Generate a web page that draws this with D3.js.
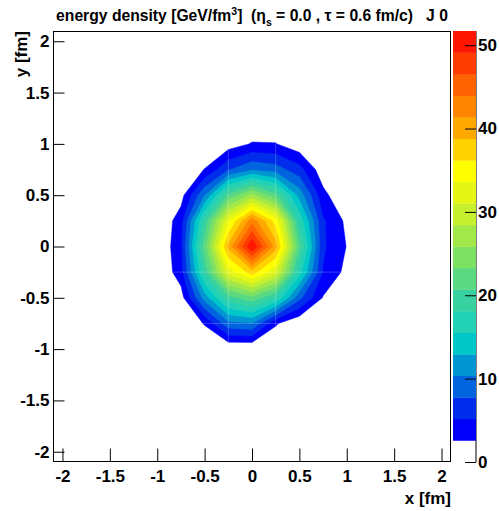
<!DOCTYPE html>
<html><head><meta charset="utf-8">
<script src="https://cdn.jsdelivr.net/npm/d3@7"></script>
<style>
body{margin:0;background:#fff}
svg{display:block}
text{font-family:"Liberation Sans",Arial,Helvetica,sans-serif;font-weight:bold;fill:#000}
</style>
</head><body>
<svg id="c" width="499" height="511"></svg>
<script>
// grid node coordinates (fm)
const gridX = [-1.25,-1,-0.75,-0.5,-0.25,0,0.25,0.5,0.75,1,1.25];
const gridY = [1.25,1,0.75,0.5,0.25,0,-0.25,-0.5,-0.75,-1,-1.25];
// energy density values at grid nodes, rows top (y=1.25) to bottom (y=-1.25)
const row_p125 = [0,0,0,0,0,0,0,0,0,0,0];
const row_p100 = [0,0,0,0,1.2,2.8,2.7,0.8,0,0,0];
const row_p075 = [0,0,0,2.7,7.5,10,9,6.2,0.9,0,0];
const row_p050 = [0,0,1.5,10.2,21.1,26.7,21.4,11.9,3.4,0,0];
const row_p025 = [0,0,4.0,18.9,33,43,35,17.5,5.5,2.0,0];
const row_000  = [0,0,4.6,22,39.5,51.7,40,21,5.6,2.5,0];
const row_m025 = [0,0,4.0,18.8,32,37.5,31.5,16.7,5.0,1.8,0];
const row_m050 = [0,0,1.4,11.5,19.7,22.5,18.0,8.5,2.4,0,0];
const row_m075 = [0,0,0,2.8,9.5,10.2,2.9,0.3,0,0,0];
const row_m100 = [0,0,0,0,0,0,0,0,0,0,0];
const row_m125 = [0,0,0,0,0,0,0,0,0,0,0];
const energyRows = [row_p125,row_p100,row_p075,row_p050,row_p025,row_000,row_m025,row_m050,row_m075,row_m100,row_m125];

const zMin = 0, zMax = 51.7, nContours = 20;
// colours of the filled bands, from lowest level to highest
const levelColors = [
  "rgb(0,0,250)","rgb(0,45,235)","rgb(0,100,222)","rgb(0,150,210)","rgb(0,200,200)",
  "rgb(35,210,182)","rgb(55,210,160)","rgb(90,217,130)","rgb(125,225,100)","rgb(162,232,72)",
  "rgb(198,240,45)","rgb(230,246,20)","rgb(255,255,0)","rgb(255,210,0)","rgb(255,168,0)",
  "rgb(255,132,0)","rgb(255,98,0)","rgb(255,60,0)","rgb(255,22,0)"
];
const xTicks = [-2,-1.5,-1,-0.5,0,0.5,1,1.5,2];
const yTicks = [-2,-1.5,-1,-0.5,0,0.5,1,1.5,2];
const zTicks = [0,10,20,30,40,50];

const svg = d3.select("#c");
const fx0 = 53, fx1 = 451, fy0 = 31, fy1 = 462;
const x = d3.scaleLinear().domain([-2.1,2.1]).range([fx0,fx1]);
const y = d3.scaleLinear().domain([-2.1,2.1]).range([fy1,fy0]);
const z = d3.scaleLinear().domain([zMin,zMax]).range([fy1,fy0]);

// contours
const nx = gridX.length, ny = gridY.length;
const values = energyRows.flat();
const levels = d3.range(1,nContours).map(k => zMin + k*(zMax-zMin)/nContours);
const stepX = gridX[1]-gridX[0], stepY = gridY[1]-gridY[0];
const proj = d3.geoTransform({point(px,py){
  this.stream.point(x(gridX[0] + (px-0.5)*stepX), y(gridY[0] + (py-0.5)*stepY));
}});
const path = d3.geoPath(proj);
const contours = d3.contours().size([nx,ny]).thresholds(levels)(values);

svg.append("clipPath").attr("id","fr").append("rect")
  .attr("x",fx0).attr("y",fy0).attr("width",fx1-fx0).attr("height",fy1-fy0);
const g = svg.append("g").attr("clip-path","url(#fr)");
g.selectAll("path.band").data(contours).join("path")
  .attr("class","band")
  .attr("d",path)
  .attr("fill",(d,i)=>levelColors[i])
  .attr("stroke",(d,i)=>levelColors[i])
  .attr("stroke-width",0.4);

// faint cell seams as in the original rendering
svg.append("clipPath").attr("id","outer").append("path").attr("d",path(contours[0]));
const seams = svg.append("g").attr("clip-path","url(#outer)");
[-0.25,0.25].forEach(v=>seams.append("line").attr("x1",x(v)).attr("x2",x(v)).attr("y1",fy0).attr("y2",fy1)
  .attr("stroke","#fff").attr("stroke-opacity",0.22).attr("stroke-width",1));
[-0.25,-0.75].forEach(v=>seams.append("line").attr("y1",y(v)).attr("y2",y(v)).attr("x1",fx0).attr("x2",fx1)
  .attr("stroke","#fff").attr("stroke-opacity",0.22).attr("stroke-width",1));

// frame
svg.append("rect").attr("x",fx0+0.5).attr("y",fy0+0.5).attr("width",fx1-fx0-1).attr("height",fy1-fy0-1)
  .attr("fill","none").attr("stroke","#000").attr("stroke-width",1);

const minorTicks = d3.range(-21,22).map(k=>k/10);
// x axis
const gx = svg.append("g").attr("transform",`translate(0,${fy1-0.5})`);
gx.call(d3.axisBottom(x).tickValues(minorTicks).tickSize(-7).tickFormat(""));
gx.call(d3.axisBottom(x).tickValues(xTicks).tickSize(-13).tickPadding(8).tickFormat(d=>String(d)));
gx.selectAll(".domain").remove();
gx.selectAll("text").attr("font-size",17).attr("font-family",null);
// y axis
const gy = svg.append("g").attr("transform",`translate(${fx0+0.5},0)`);
gy.call(d3.axisLeft(y).tickValues(minorTicks).tickSize(-6).tickFormat(""));
gy.call(d3.axisLeft(y).tickValues(yTicks).tickSize(-11).tickPadding(4).tickFormat(d=>String(d)));
gy.selectAll(".domain").remove();
gy.selectAll("text").attr("font-size",17).attr("font-family",null);
svg.selectAll(".tick line").attr("stroke","#000");

// colour bar
const cbx0 = 453, cbx1 = 476;
svg.append("line").attr("x1",cbx1).attr("x2",cbx1).attr("y1",z(zMin)).attr("y2",z(zMax)).attr("stroke","#000");
const bandEdges = levels.concat([zMax]);
svg.append("g").selectAll("rect").data(levels).join("rect")
  .attr("x",cbx0).attr("width",cbx1-cbx0)
  .attr("y",(d,i)=>z(bandEdges[i+1]))
  .attr("height",(d,i)=>z(bandEdges[i])-z(bandEdges[i+1])+0.3)
  .attr("fill",(d,i)=>levelColors[i]);
const gz = svg.append("g").attr("transform",`translate(${cbx1},0)`);
gz.call(d3.axisRight(z).tickValues(zTicks).tickSize(-11).tickPadding(2).tickFormat(d=>String(d)));
gz.selectAll(".domain").remove();
gz.selectAll("text").attr("font-size",17).attr("font-family",null);
gz.selectAll(".tick line").attr("stroke","#000");

// titles
const t = svg.append("text").attr("x",252).attr("y",21).attr("text-anchor","middle")
  .attr("font-size",15.7).style("white-space","pre");
t.append("tspan").text("energy density [GeV/fm");
t.append("tspan").attr("dy",-6).attr("font-size",10.5).text("3");
t.append("tspan").attr("dy",6).text("]  (η");
t.append("tspan").attr("dy",5).attr("font-size",10.5).text("s");
t.append("tspan").attr("dy",-5).text(" = 0.0 , τ = 0.6 fm/c)   J 0");

svg.append("text").attr("x",451).attr("y",504).attr("text-anchor","end").attr("font-size",17).text("x [fm]");
svg.append("text").attr("transform","translate(27,31) rotate(-90)").attr("text-anchor","end")
  .attr("font-size",17).text("y [fm]");
</script>
</body></html>
